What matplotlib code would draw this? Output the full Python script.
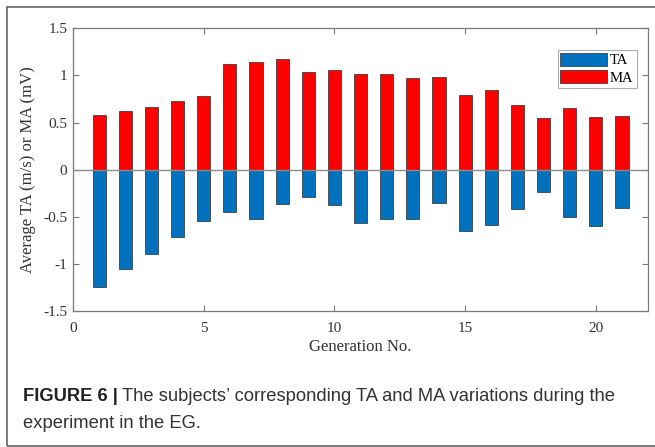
import matplotlib.pyplot as plt
from matplotlib.patches import Rectangle
from matplotlib.transforms import offset_copy
import numpy as np

# per-generation averages: TA (m/s, drawn downward) and MA (mV)
generations = np.arange(1, 22)
ma_values = [0.58, 0.62, 0.66, 0.73, 0.78, 1.12, 1.14, 1.17, 1.04, 1.06, 1.01,
             1.02, 0.97, 0.98, 0.79, 0.84, 0.69, 0.55, 0.65, 0.56, 0.57]
ta_values = [-1.25, -1.05, -0.90, -0.72, -0.54, -0.45, -0.52, -0.36, -0.29, -0.37, -0.57,
             -0.52, -0.52, -0.35, -0.65, -0.59, -0.42, -0.24, -0.50, -0.60, -0.41]
x_ticks = [0, 5, 10, 15, 20]
y_ticks = [-1.5, -1, -0.5, 0, 0.5, 1, 1.5]
y_ticklabels = ['-1.5', '-1', '-0.5', '0', '0.5', '1', '1.5']

serif = 'Liberation Serif'
spine_gray = '#7a7a7a'

fig = plt.figure(figsize=(6.55, 4.47), dpi=100)
ax = fig.add_axes([0.1115, 0.3043, 0.878, 0.6324])

ax.bar(generations, ta_values, width=0.5, color='#0072BD', edgecolor='#2a2a2a',
       linewidth=0.5, label='TA', zorder=2)
ax.bar(generations, ma_values, width=0.5, color='#FF0000', edgecolor='#2a2a2a',
       linewidth=0.5, label='MA', zorder=2)
ax.axhline(0, color='#8a8a8a', linewidth=1.0, zorder=3)

ax.set_xlim(0, 22)
ax.set_ylim(-1.5, 1.5)
ax.set_xticks(x_ticks)
ax.set_yticks(y_ticks)
ax.set_yticklabels(y_ticklabels)
ax.tick_params(direction='in', top=True, right=True, length=4, width=0.8,
               colors=spine_gray, labelcolor='#333333', labelsize=11)
ax.tick_params(axis='x', pad=8)
ax.tick_params(axis='y', pad=4)
for lab in ax.get_xticklabels() + ax.get_yticklabels():
    lab.set_fontfamily(serif)
for sp in ax.spines.values():
    sp.set_color(spine_gray)
    sp.set_linewidth(0.9)

ax.set_xlabel('Generation No.', fontfamily=serif, fontsize=12, color='#333333', labelpad=3)
ax.set_ylabel('Average TA (m/s) or MA (mV)', fontfamily=serif, fontsize=12,
              color='#333333', labelpad=5)

leg = ax.legend(loc='upper right', bbox_to_anchor=(0.98, 0.923), prop={'family': serif, 'size': 10.5},
                frameon=True, fancybox=False, handlelength=3.2, handleheight=1.0,
                handletextpad=0.2, borderpad=0.2, labelspacing=0.2, borderaxespad=0)
leg.get_frame().set_edgecolor('#999999')
leg.get_frame().set_linewidth(0.8)

# outer figure frame
fig.patches.append(Rectangle((0.0107, 0.0022), 1.2, 0.9821, transform=fig.transFigure,
                             fill=False, edgecolor='#666666', linewidth=1.2))

# caption: bold lead-in followed by regular text on the same line
cap_font = 'Liberation Sans'
cap_size = 13.2
head = fig.text(0.035, 0.112, 'FIGURE 6 |', fontfamily=cap_font, fontweight='bold',
                fontsize=cap_size, color='#222222', va='center')
fig.canvas.draw()
head_w = head.get_window_extent().width
fig.text(0.035, 0.112, "The subjects\u2019 corresponding TA and MA variations during the",
         fontfamily=cap_font, fontsize=cap_size, color='#333333', va='center',
         transform=offset_copy(fig.transFigure, fig=fig, x=head_w + 4, units='dots'))
fig.text(0.035, 0.0515, 'experiment in the EG.', fontfamily=cap_font, fontsize=cap_size,
         color='#333333', va='center')

fig.savefig('out.png', dpi=100)
